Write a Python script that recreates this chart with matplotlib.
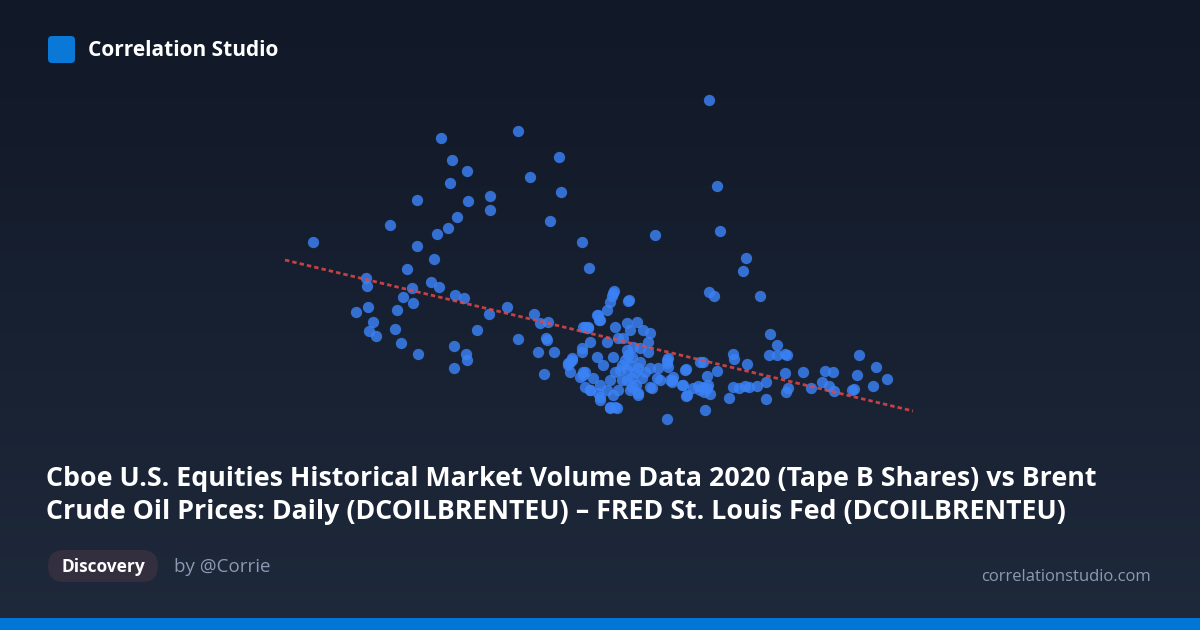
import matplotlib
matplotlib.use("Agg")
import matplotlib.pyplot as plt
from matplotlib.patches import FancyBboxPatch, Rectangle
import numpy as np

# readings (x = volume position, y = price position, screen units)
volume = [
    313, 390, 417, 441, 452, 467, 450, 468, 490, 490, 457, 448, 437, 417, 434,
    407, 366, 367, 431, 439, 412, 403, 413, 455, 464, 489, 356, 368, 397, 373,
    369, 376, 395, 477, 401, 418, 454, 466, 467, 454,
    518, 559, 530, 561, 550, 582, 655, 589,
    709, 717, 720, 746, 743, 709, 714, 760,
    507, 534, 540, 548, 518, 546, 547, 538, 554, 544, 583, 588, 629, 614, 612,
    610, 613, 628, 597, 599, 607,
    598, 600, 585, 588, 615, 627, 637, 643, 650, 630, 618, 590, 607, 623, 633,
    627, 632, 640, 648, 648, 582, 582, 572, 568, 570, 585, 597, 603, 613, 622,
    627, 638, 650, 658, 667, 668, 685, 580, 593, 610, 627, 642, 657, 585, 600,
    607, 618, 632, 650, 672, 683, 693, 590, 598, 613, 638, 600, 610, 617, 687,
    625, 630, 635, 620, 632, 640, 628, 622, 636, 615, 645, 630,
    570, 568, 572, 583, 583, 590, 600, 610, 615, 638, 652, 670,
    770, 777, 769, 777, 785, 787, 733, 734, 747, 703, 717, 707, 785, 803, 825,
    833, 859, 876, 857, 887, 766, 788, 786, 811, 822, 829, 834, 852, 854, 873,
    733, 739, 745, 749, 757, 703, 707, 729, 766, 705, 686, 700, 667,
    700, 704, 708, 698, 710, 667, 668, 660, 673, 672, 682, 686,
]
price = [
    242, 225, 200, 138, 160, 171, 183, 201, 196, 210, 217, 228, 234, 246, 259,
    269, 278, 286, 282, 287, 288, 297, 303, 295, 298, 314, 312, 307, 310, 322,
    331, 336, 329, 330, 343, 354, 346, 354, 360, 368,
    131, 157, 177, 192, 221, 242, 235, 268,
    100, 186, 231, 258, 271, 292, 296, 296,
    307, 314, 323, 322, 339, 338, 340, 352, 352, 374, 327, 328, 300, 291, 296,
    302, 293, 301, 315, 320, 310,
    315, 320, 327, 327, 327, 323, 322, 330, 333, 330, 338, 342, 342, 338, 347,
    350, 357, 348, 342, 352, 348, 352, 360, 363, 372, 372, 357, 365, 357, 365,
    370, 368, 368, 368, 360, 367, 370, 377, 378, 380, 380, 378, 378, 387, 385,
    390, 390, 387, 387, 380, 385, 388, 390, 393, 395, 395, 400, 407, 408, 395,
    360, 365, 372, 370, 378, 362, 355, 380, 385, 372, 372, 390,
    362, 365, 358, 372, 375, 390, 397, 408, 407, 393, 388, 380,
    334, 345, 355, 355, 354, 355, 354, 359, 364, 362, 371, 376, 373, 372, 371,
    372, 355, 367, 375, 379, 382, 388, 392, 388, 382, 386, 391, 390, 389, 386,
    387, 388, 386, 387, 386, 387, 388, 398, 399, 410, 369, 362, 419,
    390, 392, 385, 386, 394, 363, 358, 380, 377, 382, 385, 396,
]
trend_x = [285, 913]
trend_y = [260, 411]

title_lines = [
    "Cboe U.S. Equities Historical Market Volume Data 2020 (Tape B Shares) vs Brent",
    "Crude Oil Prices: Daily (DCOILBRENTEU) \u2013 FRED St. Louis Fed (DCOILBRENTEU)",
]

W, H = 1200, 630
fig = plt.figure(figsize=(12, 6.3), dpi=100)

# background gradient
bg = fig.add_axes([0, 0, 1, 1])
top = np.array([17, 24, 39]) / 255
bot = np.array([30, 41, 59]) / 255
t = np.linspace(0, 1, 256)[:, None]
grad = top[None, :] * (1 - t) + bot[None, :] * t
bg.imshow(grad[:, None, :].repeat(2, axis=1), aspect="auto", extent=[0, W, H, 0])
bg.set_xlim(0, W)
bg.set_ylim(H, 0)
bg.axis("off")

# scatter + trend
ax = fig.add_axes([0, 0, 1, 1])
ax.set_xlim(0, W)
ax.set_ylim(H, 0)
ax.axis("off")
ax.scatter(volume, price, s=66, color="#3b82f6", alpha=0.82, linewidths=0, zorder=3)
ax.plot(trend_x, trend_y, color="#e04848", alpha=0.85, lw=2,
        linestyle=(0, (1.6, 1.1)), zorder=4)

# header
ax.add_patch(FancyBboxPatch((48, 36), 27, 27, boxstyle="round,pad=0,rounding_size=4",
                            facecolor="#0a78d6", edgecolor="none", zorder=5))
ax.text(88, 51, "Correlation Studio", color="white", fontsize=15, fontweight="bold",
        family="Open Sans", va="center", ha="left")

# title
for i, line in enumerate(title_lines):
    ax.text(46, 479 + i * 33, line, color="white", fontsize=19.3, fontweight="bold",
            family="Open Sans", va="center", ha="left")

# footer
ax.add_patch(FancyBboxPatch((48, 550), 110, 32, boxstyle="round,pad=0,rounding_size=16",
                            facecolor="#342f3f", edgecolor="none", zorder=5))
ax.text(103, 567, "Discovery", color="white", fontsize=12.5, fontweight="bold",
        family="Open Sans", va="center", ha="center", zorder=6)
ax.text(174, 567, "by @Corrie", color="#8b9ab3", fontsize=13.5,
        family="Open Sans", va="center", ha="left")
ax.text(1151, 577, "correlationstudio.com", color="#8b9ab3", fontsize=12,
        family="Open Sans", va="center", ha="right")
ax.add_patch(Rectangle((0, 618), W, 12, facecolor="#0077d6", edgecolor="none", zorder=5))

fig.savefig("out.png", dpi=100)
